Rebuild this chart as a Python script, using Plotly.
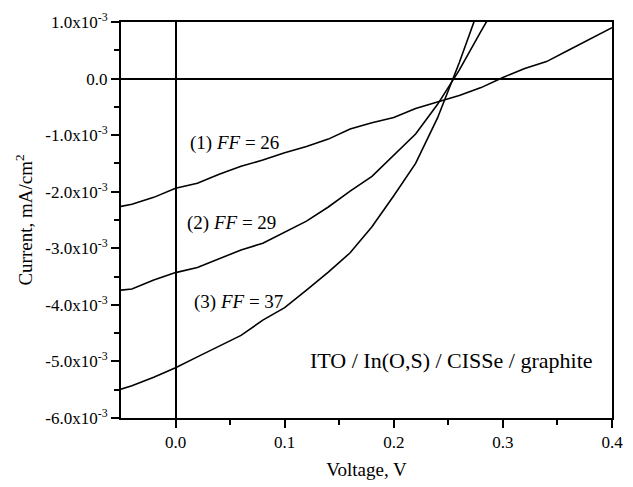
import plotly.graph_objects as go

# Data (current in units of 1e-3 mA/cm^2)
v1 = [-0.05, -0.04, -0.02, 0.00, 0.02, 0.04, 0.06, 0.08, 0.10, 0.12, 0.14, 0.16, 0.18,
      0.20, 0.22, 0.24, 0.26, 0.28, 0.30, 0.32, 0.34, 0.36, 0.38, 0.40]
i1 = [-2.26, -2.22, -2.10, -1.94, -1.85, -1.69, -1.55, -1.44, -1.31, -1.20, -1.07, -0.89, -0.78,
      -0.69, -0.53, -0.42, -0.30, -0.16, 0.02, 0.18, 0.30, 0.50, 0.70, 0.90]

v2 = [-0.05, -0.04, -0.02, 0.00, 0.02, 0.04, 0.06, 0.08, 0.10, 0.12, 0.14, 0.16, 0.18,
      0.20, 0.22, 0.24, 0.26, 0.28, 0.30]
i2 = [-3.74, -3.72, -3.56, -3.43, -3.34, -3.18, -3.03, -2.91, -2.72, -2.52, -2.27, -1.99, -1.73,
      -1.36, -0.98, -0.46, 0.15, 0.84, 1.50]

v3 = [-0.05, -0.04, -0.02, 0.00, 0.02, 0.04, 0.06, 0.08, 0.10, 0.12, 0.14, 0.16, 0.18,
      0.20, 0.22, 0.24, 0.26, 0.28]
i3 = [-5.49, -5.43, -5.28, -5.11, -4.92, -4.73, -4.54, -4.27, -4.05, -3.74, -3.42, -3.08, -2.62,
      -2.07, -1.50, -0.70, 0.28, 1.35]

scale = 1e-3

y_tickvals = [1, 0, -1, -2, -3, -4, -5, -6]
y_ticktext = ["1.0x10<sup>-3</sup>", "0.0", "-1.0x10<sup>-3</sup>", "-2.0x10<sup>-3</sup>",
              "-3.0x10<sup>-3</sup>", "-4.0x10<sup>-3</sup>", "-5.0x10<sup>-3</sup>",
              "-6.0x10<sup>-3</sup>"]
x_tickvals = [0.0, 0.1, 0.2, 0.3, 0.4]
x_ticktext = ["0.0", "0.1", "0.2", "0.3", "0.4"]

labels = ["(1) <i>FF</i> = 26", "(2) <i>FF</i> = 29", "(3) <i>FF</i> = 37"]
label_pos = [(0.011, -1.13), (0.009, -2.56), (0.015, -3.95)]
device = "ITO / In(O,S) / CISSe / graphite"

FONT = "Liberation Serif, Times New Roman, serif"

fig = go.Figure()
for v, i in [(v1, i1), (v2, i2), (v3, i3)]:
    fig.add_trace(go.Scatter(x=v, y=[k * scale for k in i], mode="lines",
                             line=dict(color="black", width=1.6), showlegend=False))

for txt, (lx, ly) in zip(labels, label_pos):
    fig.add_annotation(x=lx, y=ly * scale, xref="x", yref="y", text=txt, showarrow=False,
                       xanchor="left", yanchor="middle", font=dict(family=FONT, size=19, color="black"))
fig.add_annotation(x=0.121, y=-4.99 * scale, xref="x", yref="y", text=device, showarrow=False,
                   xanchor="left", yanchor="middle", font=dict(family=FONT, size=22, color="black"))

fig.update_layout(
    width=633, height=487,
    margin=dict(l=121, r=10, t=22, b=56),
    paper_bgcolor="white", plot_bgcolor="white",
    font=dict(family=FONT, size=16, color="black"),
    showlegend=False,
)
fig.update_xaxes(
    range=[-0.05, 0.4], showgrid=False,
    showline=True, linecolor="black", linewidth=2, mirror=True,
    zeroline=True, zerolinecolor="black", zerolinewidth=1.6,
    tickmode="array", tickvals=x_tickvals, ticktext=x_ticktext,
    ticks="outside", ticklen=8, tickwidth=2, tickcolor="black",
    minor=dict(ticks="outside", ticklen=5, tickwidth=2, tickcolor="black",
               tickmode="array", tickvals=[0.05, 0.15, 0.25, 0.35]),
    tickfont=dict(family=FONT, size=17),
    title=dict(text="Voltage, V", font=dict(family=FONT, size=19), standoff=11),
)
fig.update_yaxes(
    range=[-6e-3, 1e-3], showgrid=False,
    showline=True, linecolor="black", linewidth=2, mirror=True,
    zeroline=True, zerolinecolor="black", zerolinewidth=1.6,
    tickmode="array", tickvals=[t * scale for t in y_tickvals], ticktext=y_ticktext,
    ticks="outside", ticklen=8, tickwidth=2, tickcolor="black",
    minor=dict(ticks="outside", ticklen=5, tickwidth=2, tickcolor="black",
               tickmode="array", tickvals=[t * scale for t in [0.5, -0.5, -1.5, -2.5, -3.5, -4.5, -5.5]]),
    tickfont=dict(family=FONT, size=17),
    title=dict(text="Current, mA/cm<sup>2</sup>", font=dict(family=FONT, size=19), standoff=8),
)

fig.write_html("out.html")
